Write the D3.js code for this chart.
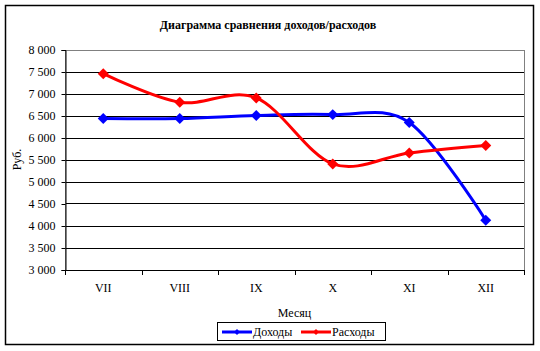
<!DOCTYPE html>
<html>
<head>
<meta charset="utf-8">
<script src="https://cdn.jsdelivr.net/npm/d3@7"></script>
<style>
  body { margin: 0; background: #fff; }
  svg text { font-family: "Liberation Serif", "DejaVu Serif", serif !important; fill: #000; }
</style>
</head>
<body>
<div id="chart"></div>
<script>
// chart data
var months = ["VII", "VIII", "IX", "X", "XI", "XII"];
var income = [6430, 6430, 6500, 6520, 6340, 4120];
var expense = [7450, 6800, 6900, 5400, 5650, 5820];
var yTicks = [3000, 3500, 4000, 4500, 5000, 5500, 6000, 6500, 7000, 7500, 8000];

var seriesNames = ["Доходы", "Расходы"];
var seriesColors = ["#0000ff", "#ff0000"];

var w = 540, h = 351;
var plot = { left: 65, right: 524, top: 49.5, bottom: 269.5 };

var svg = d3.select("#chart").append("svg")
  .attr("width", w)
  .attr("height", h)
  .attr("font-family", "Liberation Serif")
  .style("display", "block");

// outer frame
svg.append("rect")
  .attr("x", 5.5).attr("y", 5.5)
  .attr("width", 528).attr("height", 339)
  .attr("fill", "#fff")
  .attr("stroke", "#000")
  .attr("stroke-width", 1.5);

var x = d3.scaleBand().domain(months).range([plot.left, plot.right]);
var y = d3.scaleLinear().domain([3000, 8000]).range([plot.bottom, plot.top]);

// gridlines
svg.append("g")
  .selectAll("line")
  .data(yTicks.slice(1, -1))
  .enter().append("line")
  .attr("x1", plot.left).attr("x2", plot.right)
  .attr("y1", function(d) { return Math.round(y(d)) + 0.5; })
  .attr("y2", function(d) { return Math.round(y(d)) + 0.5; })
  .attr("stroke", "#000")
  .attr("stroke-width", 1);

// plot area border (grey)
svg.append("rect")
  .attr("x", plot.left + 0.5).attr("y", Math.round(plot.top) + 0.5)
  .attr("width", plot.right - plot.left)
  .attr("height", Math.round(plot.bottom) - Math.round(plot.top))
  .attr("fill", "none")
  .attr("stroke", "#808080")
  .attr("stroke-width", 1);

// y axis
var fmt = function(d) { return d3.format(",")(d).replace(",", " "); };
var yAxis = svg.append("g")
  .attr("transform", "translate(" + (plot.left + 0.5) + ",0.5)")
  .call(d3.axisLeft(y).tickValues(yTicks).tickSize(4).tickPadding(6).tickFormat(fmt));
yAxis.attr("font-family", "Liberation Serif").attr("font-size", 12);
yAxis.select(".domain").attr("stroke", "#000");
yAxis.selectAll("text").attr("fill", "#000");

// x axis - ticks at band edges
var xAxisG = svg.append("g");
xAxisG.append("line")
  .attr("x1", plot.left).attr("x2", plot.right + 1)
  .attr("y1", Math.round(plot.bottom) + 0.5).attr("y2", Math.round(plot.bottom) + 0.5)
  .attr("stroke", "#000");
var edges = months.map(function(m) { return x(m); }).concat([plot.right]);
xAxisG.selectAll(".tk")
  .data(edges)
  .enter().append("line")
  .attr("class", "tk")
  .attr("x1", function(d) { return Math.round(d) + 0.5; })
  .attr("x2", function(d) { return Math.round(d) + 0.5; })
  .attr("y1", Math.round(plot.bottom))
  .attr("y2", Math.round(plot.bottom) + 5)
  .attr("stroke", "#000");
xAxisG.selectAll(".lbl")
  .data(months)
  .enter().append("text")
  .attr("class", "lbl")
  .attr("x", function(d) { return x(d) + x.bandwidth() / 2; })
  .attr("y", 292)
  .attr("text-anchor", "middle")
  .style("font-size", "12px")
  .text(function(d) { return d; });

// titles
svg.append("text")
  .attr("x", 268).attr("y", 29)
  .attr("text-anchor", "middle")
  .style("font-size", "12px")
  .style("font-weight", "bold")
  .text("Диаграмма сравнения доходов/расходов");

svg.append("text")
  .attr("x", (plot.left + plot.right) / 2).attr("y", 317)
  .attr("text-anchor", "middle")
  .style("font-size", "12px")
  .text("Месяц");

svg.append("text")
  .attr("transform", "translate(21," + ((plot.top + plot.bottom) / 2) + ") rotate(-90)")
  .attr("text-anchor", "middle")
  .style("font-size", "12px")
  .text("Руб.");

// series
var line = d3.line()
  .x(function(d, i) { return x(months[i]) + x.bandwidth() / 2; })
  .y(function(d) { return y(d); })
  .curve(d3.curveCardinal.tension(0));

[income, expense].forEach(function(series, k) {
  var g = svg.append("g");
  g.append("path")
    .attr("d", line(series))
    .attr("fill", "none")
    .attr("stroke", seriesColors[k])
    .attr("stroke-width", 3);
  g.selectAll("path.m")
    .data(series)
    .enter().append("path")
    .attr("class", "m")
    .attr("d", d3.symbol().type(d3.symbolSquare).size(60))
    .attr("transform", function(d, i) {
      return "translate(" + (x(months[i]) + x.bandwidth() / 2) + "," + y(d) + ") rotate(45)";
    })
    .attr("fill", seriesColors[k]);
});

// legend
var legend = svg.append("g");
legend.append("rect")
  .attr("x", 217.5).attr("y", 322.5)
  .attr("width", 168).attr("height", 18)
  .attr("fill", "#fff")
  .attr("stroke", "#000");

var legX = [222, 301];
seriesNames.forEach(function(name, k) {
  var item = legend.append("g").attr("transform", "translate(" + legX[k] + ",332)");
  item.append("line")
    .attr("x1", 0).attr("x2", 30)
    .attr("stroke", seriesColors[k])
    .attr("stroke-width", 3);
  item.append("path")
    .attr("d", d3.symbol().type(d3.symbolSquare).size(18))
    .attr("transform", "translate(15,0) rotate(45)")
    .attr("fill", seriesColors[k]);
  item.append("text")
    .attr("x", 31).attr("y", 4)
    .style("font-size", "12px")
    .text(name);
});
</script>
</body>
</html>
